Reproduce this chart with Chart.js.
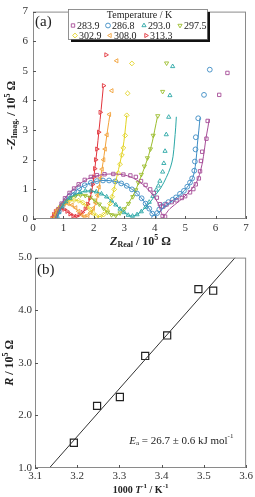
<!DOCTYPE html>
<html>
<head>
<meta charset="utf-8">
<script src="https://cdn.jsdelivr.net/npm/chart.js@4/dist/chart.umd.min.js"></script>
<style>
  html, body { margin: 0; padding: 0; background: #fff; }
  #boxA { position: absolute; left: 0; top: 0; width: 255px; height: 248px; }
  #boxB { position: absolute; left: 0; top: 248px; width: 255px; height: 249px; }
</style>
</head>
<body>
<div id="boxA"><canvas id="nyquistChart"></canvas></div>
<div id="boxB"><canvas id="arrheniusChart"></canvas></div>
<script>
// ---- panel (a): impedance spectra, [Z real, -Z imag] in 10^5 ohm ----
const temps = ['283.9', '286.8', '293.0', '297.5', '302.9', '308.0', '313.3'];
const colors = ['#a64d97', '#3d8cc4', '#2aa7a6', '#9cbd2e', '#e2d321', '#f2a23a', '#e2343c'];
const markers = ['rect', 'circle', 'triangle', 'triangle', 'rectRot', 'triangle', 'triangle'];
const rotations = [0, 0, 0, 180, 0, -90, 90];

const z283 = [[0.72,0.05],[0.78,0.18],[0.84,0.32],[0.94,0.52],[1.05,0.7],[1.2,0.88],[1.35,1.03],[1.5,1.17],[1.7,1.32],[1.9,1.42],[2.1,1.48],[2.35,1.51],[2.64,1.52],[2.97,1.5],[3.2,1.47],[3.38,1.42],[3.55,1.28],[3.7,1.15],[3.85,1.0],[3.97,0.88],[4.07,0.72],[4.17,0.5],[4.26,0.1],[4.34,0.08],[4.28,0.42],[4.39,0.49],[4.56,0.57],[4.72,0.63],[4.89,0.71],[5.0,0.77],[5.16,0.9],[5.27,1.01],[5.35,1.17],[5.45,1.37],[5.49,1.61],[5.52,1.96],[5.56,2.27],[5.7,2.71],[5.74,3.31],[6.12,4.19],[6.39,4.93]];
const z286 = [[0.78,0.05],[0.85,0.25],[0.95,0.45],[1.07,0.63],[1.2,0.78],[1.35,0.92],[1.52,1.04],[1.7,1.14],[1.9,1.22],[2.1,1.28],[2.3,1.3],[2.5,1.3],[2.7,1.27],[2.9,1.2],[3.08,1.12],[3.25,1.0],[3.42,0.86],[3.57,0.7],[3.7,0.52],[3.82,0.35],[3.92,0.18],[3.98,0.05],[4.08,0.2],[4.15,0.32],[4.23,0.43],[4.34,0.49],[4.45,0.57],[4.59,0.65],[4.7,0.73],[4.83,0.85],[4.96,0.95],[5.07,1.09],[5.16,1.23],[5.23,1.37],[5.3,1.63],[5.32,1.94],[5.34,2.35],[5.35,2.76],[5.43,3.4],[5.62,4.19],[5.81,5.04]];
const z293 = [[0.78,0.05],[0.85,0.22],[0.95,0.4],[1.08,0.57],[1.22,0.7],[1.38,0.82],[1.55,0.9],[1.72,0.95],[1.9,0.95],[2.08,0.92],[2.25,0.85],[2.42,0.75],[2.58,0.62],[2.72,0.48],[2.86,0.34],[3.0,0.22],[3.13,0.13],[3.27,0.1],[3.42,0.15],[3.56,0.25],[3.7,0.4],[3.82,0.57],[3.94,0.77],[4.05,0.98],[4.12,1.12],[4.17,1.28],[4.26,1.59],[4.3,1.88],[4.34,2.29],[4.38,2.85],[4.46,3.44],[4.5,4.17],[4.59,5.15]];
const z297 = [[0.74,0.05],[0.8,0.2],[0.88,0.36],[0.98,0.5],[1.1,0.62],[1.24,0.72],[1.4,0.79],[1.56,0.81],[1.72,0.79],[1.88,0.73],[2.03,0.63],[2.18,0.5],[2.32,0.36],[2.45,0.23],[2.58,0.14],[2.72,0.12],[2.86,0.2],[3.0,0.34],[3.14,0.52],[3.28,0.75],[3.38,0.98],[3.46,1.23],[3.56,1.5],[3.66,1.78],[3.76,2.06],[3.86,2.36],[3.95,2.82],[4.1,3.48],[4.26,4.3],[4.39,5.26]];
const z302 = [[0.7,0.05],[0.76,0.2],[0.84,0.34],[0.94,0.46],[1.06,0.56],[1.2,0.62],[1.35,0.64],[1.5,0.62],[1.64,0.55],[1.77,0.44],[1.88,0.32],[1.98,0.2],[2.08,0.1],[2.2,0.08],[2.32,0.15],[2.43,0.3],[2.53,0.52],[2.6,0.75],[2.67,1.0],[2.73,1.27],[2.8,1.55],[2.86,1.85],[2.92,2.16],[2.97,2.4],[3.03,2.82],[3.08,3.5],[3.11,4.24],[3.25,5.25]];
const z308 = [[0.66,0.04],[0.72,0.18],[0.8,0.32],[0.9,0.43],[1.02,0.5],[1.15,0.52],[1.28,0.47],[1.4,0.38],[1.5,0.26],[1.6,0.14],[1.7,0.08],[1.8,0.12],[1.9,0.22],[1.98,0.36],[2.06,0.55],[2.12,0.8],[2.17,1.08],[2.22,1.38],[2.27,1.68],[2.32,2.0],[2.37,2.36],[2.43,2.84],[2.51,3.53],[2.59,4.33],[2.75,5.34]];
const z313 = [[0.63,0.03],[0.68,0.15],[0.74,0.25],[0.82,0.32],[0.92,0.35],[1.02,0.33],[1.12,0.26],[1.22,0.17],[1.32,0.1],[1.42,0.09],[1.52,0.14],[1.62,0.22],[1.72,0.34],[1.8,0.5],[1.87,0.7],[1.92,0.93],[1.96,1.17],[2.0,1.42],[2.03,1.7],[2.06,2.0],[2.1,2.36],[2.16,2.93],[2.21,3.6],[2.32,4.5],[2.4,5.54]];

// fitted curves (equivalent circuit), same units
const fit283 = [[0.72,0],[0.85,0.35],[1.05,0.7],[1.35,1.03],[1.7,1.3],[2.1,1.46],[2.6,1.52],[3.1,1.46],[3.5,1.25],[3.85,0.92],[4.1,0.55],[4.28,0.12],[4.5,0.35],[4.8,0.6],[5.1,0.88],[5.35,1.2],[5.5,1.6],[5.6,2.1],[5.68,2.7],[5.75,3.1],[5.79,3.37]];
const fit286 = [[0.78,0],[0.9,0.35],[1.1,0.66],[1.4,0.95],[1.8,1.18],[2.3,1.3],[2.8,1.24],[3.2,1.04],[3.55,0.72],[3.8,0.38],[3.98,0.12],[4.1,0.2],[4.4,0.48],[4.75,0.75],[5.05,1.05],[5.25,1.4],[5.35,1.9],[5.4,2.5],[5.45,3.0],[5.49,3.42]];
const fit293 = [[0.78,0],[0.9,0.32],[1.1,0.6],[1.4,0.83],[1.8,0.95],[2.2,0.87],[2.55,0.64],[2.85,0.35],[3.1,0.15],[3.3,0.1],[3.55,0.25],[3.8,0.5],[4.0,0.78],[4.2,1.05],[4.38,1.4],[4.52,1.75],[4.6,2.1],[4.65,2.6],[4.69,3.1],[4.71,3.45]];
const fit297 = [[0.74,0],[0.85,0.3],[1.05,0.58],[1.3,0.75],[1.56,0.81],[1.85,0.74],[2.15,0.52],[2.4,0.28],[2.6,0.14],[2.75,0.12],[2.95,0.28],[3.15,0.55],[3.35,0.92],[3.5,1.3],[3.65,1.7],[3.8,2.15],[3.92,2.6],[4.0,3.0],[4.09,3.45]];
const fit302 = [[0.7,0],[0.8,0.28],[1.0,0.52],[1.3,0.64],[1.6,0.57],[1.85,0.35],[2.05,0.13],[2.2,0.08],[2.38,0.22],[2.52,0.5],[2.65,0.95],[2.76,1.45],[2.86,1.9],[2.95,2.35],[3.02,2.9],[3.08,3.5]];
const fit308 = [[0.66,0],[0.75,0.25],[0.9,0.43],[1.1,0.51],[1.3,0.45],[1.5,0.26],[1.65,0.1],[1.75,0.08],[1.9,0.2],[2.05,0.5],[2.15,0.95],[2.23,1.45],[2.3,1.9],[2.37,2.4],[2.45,3.0],[2.53,3.53]];
const fit313 = [[0.63,0],[0.72,0.22],[0.85,0.33],[0.95,0.35],[1.1,0.27],[1.25,0.14],[1.38,0.09],[1.55,0.15],[1.72,0.33],[1.85,0.62],[1.95,1.05],[2.01,1.5],[2.06,1.95],[2.1,2.3],[2.17,3.0],[2.24,3.7],[2.31,4.46]];

// ---- panel (b): Arrhenius plot ----
const invT = [3.192, 3.247, 3.301, 3.361, 3.413, 3.487, 3.522];
const resist = [1.48, 2.18, 2.35, 3.13, 3.52, 4.40, 4.37];
const lineX = [3.134, 3.574];
const lineY = [1.0, 5.0];

const SERIF = '"Liberation Serif", "DejaVu Serif", serif';
const TXT = '#222';

function toXY(arr) {
  return arr.map(p => ({ x: p[0], y: p[1] }));
}

// draws text made of pieces (sub/superscripts), centred or left aligned
function richText(ctx, parts, x, y, rot, align) {
  ctx.save();
  ctx.translate(x, y);
  ctx.rotate(rot || 0);
  let w = 0;
  parts.forEach(p => { ctx.font = p.f; w += ctx.measureText(p.t).width; });
  let cx = align === 'left' ? 0 : -w / 2;
  ctx.textAlign = 'left';
  ctx.textBaseline = 'middle';
  ctx.fillStyle = TXT;
  parts.forEach(p => {
    ctx.font = p.f;
    ctx.fillText(p.t, cx, p.dy || 0);
    cx += ctx.measureText(p.t).width;
  });
  ctx.restore();
}

// frame + inward ticks on bottom and left
const framePlugin = {
  id: 'frame',
  afterDraw(chart) {
    const { ctx, chartArea: a, scales } = chart;
    ctx.save();
    ctx.strokeStyle = '#8a8a8a';
    ctx.lineWidth = 1;
    ctx.strokeRect(a.left + 0.5, a.top + 0.5, a.right - a.left - 1, a.bottom - a.top - 1);
    ctx.strokeStyle = '#555';
    ctx.beginPath();
    scales.x.ticks.forEach(t => {
      const px = Math.round(scales.x.getPixelForValue(t.value)) + 0.5;
      ctx.moveTo(px, a.bottom);
      ctx.lineTo(px, a.bottom - 3);
    });
    scales.y.ticks.forEach(t => {
      const py = Math.round(scales.y.getPixelForValue(t.value)) + 0.5;
      ctx.moveTo(a.left, py);
      ctx.lineTo(a.left + 3, py);
    });
    ctx.stroke();
    ctx.restore();
  }
};

// legend box of panel (a) with drop shadow
const legendBox = {
  id: 'legendBox',
  afterDraw(chart) {
    const ctx = chart.ctx;
    const bx = 68, by = 9, bw = 139, bh = 30;
    ctx.save();
    ctx.fillStyle = '#111';
    ctx.fillRect(bx + 3, by + 3, bw, bh);
    ctx.fillStyle = '#fff';
    ctx.fillRect(bx, by, bw, bh);
    ctx.strokeStyle = '#777';
    ctx.lineWidth = 0.8;
    ctx.strokeRect(bx + 0.5, by + 0.5, bw, bh);
    ctx.fillStyle = TXT;
    ctx.font = '10px ' + SERIF;
    ctx.textAlign = 'center';
    ctx.textBaseline = 'middle';
    ctx.fillText('Temperature / K', bx + bw / 2 + 2, by + 6.5);
    const cols = [73, 108, 144, 180];
    temps.forEach((t, i) => {
      const row = i < 4 ? 0 : 1;
      const col = i < 4 ? i : i - 4;
      const mx = cols[col] + (row ? 2 : 0);
      const my = by + 16.5 + row * 10;
      ctx.strokeStyle = colors[i];
      ctx.fillStyle = 'rgba(0,0,0,0)';
      ctx.lineWidth = 0.9;
      Chart.helpers.drawPoint(ctx, { pointStyle: markers[i], rotation: rotations[i], radius: 2.4, borderWidth: 0.9 }, mx, my);
      ctx.fillStyle = TXT;
      ctx.textAlign = 'left';
      ctx.fillText(t, mx + 4, my + 0.5);
    });
    ctx.restore();
  }
};

const titlesA = {
  id: 'titlesA',
  afterDraw(chart) {
    const ctx = chart.ctx;
    const a = chart.chartArea;
    const big = 'bold 12px ' + SERIF, bigI = 'italic bold 12px ' + SERIF, small = 'bold 8px ' + SERIF;
    richText(ctx, [
      { t: 'Z', f: bigI }, { t: 'Real', f: small, dy: 3 }, { t: ' / 10', f: big }, { t: '5', f: small, dy: -4 }, { t: ' Ω', f: big }
    ], (a.left + a.right) / 2 + 1, 242);
    richText(ctx, [
      { t: '-Z', f: bigI }, { t: 'Imag.', f: small, dy: 3 }, { t: ' / 10', f: big }, { t: '5', f: small, dy: -4 }, { t: ' Ω', f: big }
    ], 12, (a.top + a.bottom) / 2, -Math.PI / 2);
    ctx.save();
    ctx.fillStyle = TXT;
    ctx.font = '15px ' + SERIF;
    ctx.textBaseline = 'middle';
    ctx.fillText('(a)', a.left + 2, a.top + 10);
    ctx.restore();
  }
};

const titlesB = {
  id: 'titlesB',
  afterDraw(chart) {
    const ctx = chart.ctx;
    const a = chart.chartArea;
    const big = 'bold 11px ' + SERIF, bigI = 'italic bold 12px ' + SERIF, small = 'bold 7px ' + SERIF;
    richText(ctx, [
      { t: '1000 ', f: 'bold 10px ' + SERIF }, { t: 'T', f: 'italic bold 10px ' + SERIF }, { t: '-1', f: small, dy: -4 },
      { t: ' / K', f: 'bold 10px ' + SERIF }, { t: '-1', f: small, dy: -4 }
    ], (a.left + a.right) / 2, 242);
    richText(ctx, [
      { t: 'R', f: bigI }, { t: ' / 10', f: 'bold 12px ' + SERIF }, { t: '5', f: 'bold 8px ' + SERIF, dy: -4 }, { t: ' Ω', f: 'bold 12px ' + SERIF }
    ], 10, (a.top + a.bottom) / 2, -Math.PI / 2);
    const ex = chart.scales.x.getPixelForValue(3.323);
    const ey = chart.scales.y.getPixelForValue(1.52);
    richText(ctx, [
      { t: 'E', f: 'italic 11px ' + SERIF }, { t: 'a', f: '7px ' + SERIF, dy: 3 },
      { t: ' = 26.7 ± 0.6 kJ mol', f: '11px ' + SERIF }, { t: '-1', f: '7px ' + SERIF, dy: -4 }
    ], ex, ey, 0, 'left');
    ctx.save();
    ctx.fillStyle = TXT;
    ctx.font = '15px ' + SERIF;
    ctx.textBaseline = 'middle';
    ctx.fillText('(b)', a.left + 2, a.top + 12);
    ctx.restore();
  }
};

function tickFont() {
  return { family: SERIF, size: 11 };
}

// ---------- chart (a) ----------
const measData = [z283, z286, z293, z297, z302, z308, z313];
const fitData = [fit283, fit286, fit293, fit297, fit302, fit308, fit313];

const nyqSets = [];
fitData.forEach((f, i) => {
  nyqSets.push({
    label: temps[i] + ' fit',
    data: toXY(f),
    showLine: true,
    borderColor: colors[i],
    borderWidth: 1,
    pointRadius: 0,
    tension: 0.35
  });
});
measData.forEach((m, i) => {
  nyqSets.push({
    label: temps[i],
    data: toXY(m),
    showLine: false,
    pointStyle: markers[i],
    rotation: rotations[i],
    pointRadius: 2.4,
    pointBorderWidth: 0.9,
    borderColor: colors[i],
    backgroundColor: 'rgba(0,0,0,0)'
  });
});

new Chart(document.getElementById('nyquistChart'), {
  type: 'scatter',
  data: { datasets: nyqSets },
  options: {
    responsive: true,
    maintainAspectRatio: false,
    animation: false,
    layout: { padding: { left: 0, right: 9, top: 6, bottom: 0 } },
    plugins: { legend: { display: false }, tooltip: { enabled: false } },
    scales: {
      x: {
        type: 'linear', min: 0, max: 7,
        ticks: { stepSize: 1, color: '#333', font: tickFont(), padding: 3 },
        grid: { display: false, drawTicks: false },
        border: { display: false },
        afterFit: s => { s.height = 29; }
      },
      y: {
        type: 'linear', min: 0, max: 7,
        ticks: { stepSize: 1, color: '#333', font: tickFont(), padding: 5 },
        grid: { display: false, drawTicks: false },
        border: { display: false },
        afterFit: s => { s.width = 33; }
      }
    }
  },
  plugins: [framePlugin, legendBox, titlesA]
});

// ---------- chart (b) ----------
new Chart(document.getElementById('arrheniusChart'), {
  type: 'scatter',
  data: {
    datasets: [
      {
        label: 'fit',
        data: lineX.map((x, i) => ({ x: x, y: lineY[i] })),
        showLine: true,
        borderColor: '#333',
        borderWidth: 1,
        pointRadius: 0
      },
      {
        label: 'R',
        data: invT.map((x, i) => ({ x: x, y: resist[i] })),
        pointStyle: 'rect',
        pointRadius: 5,
        pointBorderWidth: 1.2,
        borderColor: '#222',
        backgroundColor: 'rgba(0,0,0,0)'
      }
    ]
  },
  options: {
    responsive: true,
    maintainAspectRatio: false,
    animation: false,
    layout: { padding: { left: 0, right: 8, top: 6, bottom: 0 } },
    plugins: { legend: { display: false }, tooltip: { enabled: false } },
    scales: {
      x: {
        type: 'linear', min: 3.1, max: 3.6,
        ticks: { stepSize: 0.1, color: '#333', font: tickFont(), padding: 2, callback: v => v.toFixed(1) },
        grid: { display: false, drawTicks: false },
        border: { display: false },
        afterFit: s => { s.height = 29; }
      },
      y: {
        type: 'linear', min: 1, max: 5,
        ticks: { stepSize: 1, color: '#333', font: tickFont(), padding: 3, callback: v => v.toFixed(1) },
        grid: { display: false, drawTicks: false },
        border: { display: false },
        afterFit: s => { s.width = 35; }
      }
    }
  },
  plugins: [framePlugin, titlesB]
});
</script>
</body>
</html>
